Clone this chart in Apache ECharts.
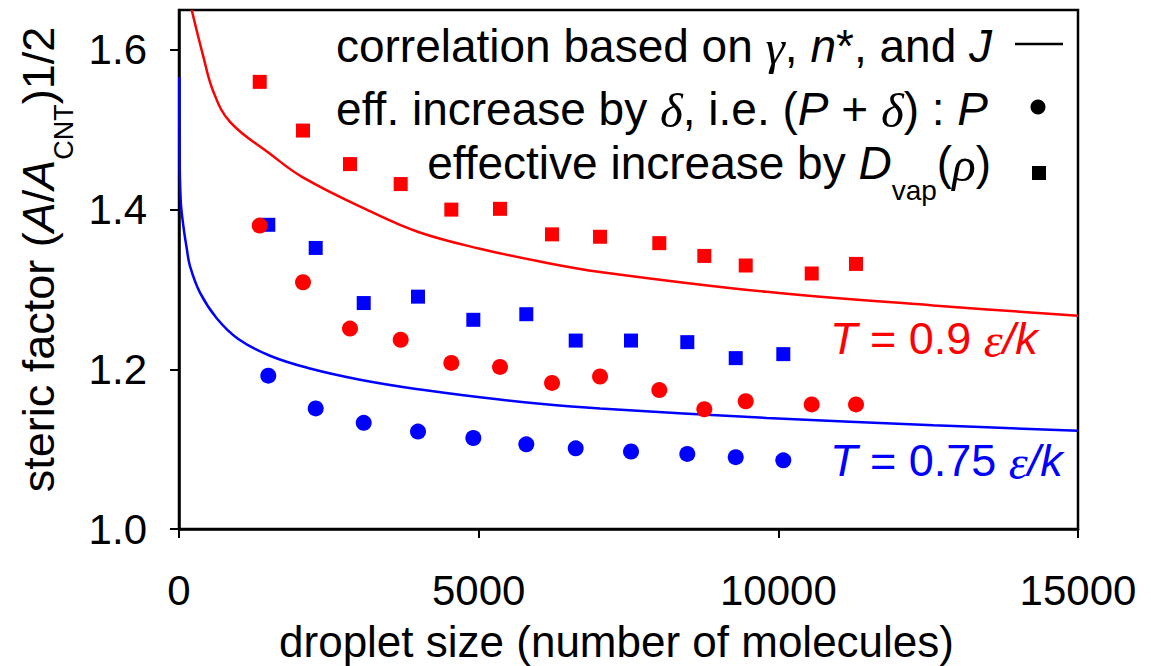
<!DOCTYPE html>
<html>
<head>
<meta charset="utf-8">
<script src="https://cdn.jsdelivr.net/npm/echarts@6/dist/echarts.min.js"></script>
<style>
html,body{margin:0;padding:0;background:#fff;}
#chart{width:1151px;height:666px;}
</style>
</head>
<body>
<div id="chart"></div>
<script>
// ---- data ----
var xTicks = [0, 5000, 10000, 15000];
var yTicks = [1.0, 1.2, 1.4, 1.6];

// T = 0.9 (red)
var redSizes   = [1347, 2069, 2853, 3699, 4544, 5356, 6224, 7025, 8014, 8765, 9456, 10557, 11296];
var redDelta   = [1.380, 1.309, 1.251, 1.237, 1.208, 1.203, 1.183, 1.191, 1.174, 1.150, 1.160, 1.156, 1.156];
var redDvap    = [1.560, 1.499, 1.457, 1.432, 1.400, 1.401, 1.369, 1.366, 1.358, 1.342, 1.330, 1.320, 1.332];
var redCorrX   = [212, 405, 572, 851, 1518, 2074, 3187, 3993, 5022, 6023, 7025, 9806, 12586, 15000];
var redCorrY   = [1.650, 1.592, 1.548, 1.510, 1.470, 1.440, 1.398, 1.372, 1.351, 1.335, 1.322, 1.297, 1.280, 1.267];

// T = 0.75 (blue)
var blueSizes  = [1490, 2281, 3082, 3988, 4911, 5795, 6619, 7542, 8481, 9289, 10083];
var blueDelta  = [1.192, 1.151, 1.133, 1.122, 1.114, 1.106, 1.101, 1.097, 1.094, 1.090, 1.086];
var blueDvap   = [1.381, 1.352, 1.283, 1.291, 1.262, 1.269, 1.236, 1.236, 1.234, 1.214, 1.219];
var blueCorrX  = [5, 8, 28, 72, 128, 184, 350, 629, 989, 1518, 2186, 3020, 3993, 5022, 6023, 7025, 9806, 12586, 15000];
var blueCorrY  = [1.566, 1.484, 1.412, 1.380, 1.352, 1.329, 1.296, 1.264, 1.238, 1.217, 1.201, 1.187, 1.175, 1.165, 1.157, 1.151, 1.139, 1.130, 1.123];

var RED = '#ff0000', BLUE = '#0000ff';
var SANS = "'Liberation Sans', Arial, sans-serif";
var SERIF = "'Liberation Serif', 'Times New Roman', serif";

function zip(xs, ys) { return xs.map(function (x, i) { return [x, ys[i]]; }); }

function richSet(color, fs) {
  var sub = Math.round(fs * 0.6);
  return {
    n:   { fontFamily: SANS, fontSize: fs, lineHeight: fs, color: color, fill: color, verticalAlign: 'top' },
    i:   { fontFamily: SANS, fontSize: fs, lineHeight: fs, color: color, fill: color, fontStyle: 'italic', verticalAlign: 'top' },
    g:   { fontFamily: SERIF, fontSize: fs + 3, lineHeight: fs, color: color, fill: color, fontStyle: 'italic', verticalAlign: 'top' },
    sub: { fontFamily: SANS, fontSize: sub, lineHeight: sub, color: color, fill: color, verticalAlign: 'top', padding: [Math.round(fs * 0.78), 0, 0, 0] }
  };
}

var chart = echarts.init(document.getElementById('chart'), null, { renderer: 'svg' });

var option = {
  animation: false,
  backgroundColor: '#fff',
  grid: { left: 179, right: 73, top: 10, bottom: 137, show: true, borderColor: '#000', borderWidth: 2.5,
          backgroundColor: 'transparent', outerBoundsMode: 'none', containLabel: false },
  xAxis: {
    type: 'value', min: 0, max: 15000, interval: 5000,
    splitLine: { show: false },
    axisLine: { onZero: false, lineStyle: { color: '#000', width: 2.5 } },
    axisTick: { inside: false, length: 9, lineStyle: { color: '#000', width: 2 }, customValues: xTicks },
    axisLabel: { color: '#000', fontFamily: SANS, fontSize: 42, margin: 40, customValues: xTicks,
                 formatter: function (v) { return String(v); } },
    name: 'droplet size (number of molecules)',
    nameLocation: 'middle', nameGap: 90,
    nameTextStyle: { color: '#000', fontFamily: SANS, fontSize: 44, lineHeight: 44, padding: [0, 24, 0, 0] }
  },
  yAxis: {
    type: 'value', min: 1.0, max: 1.65, interval: 0.2,
    splitLine: { show: false },
    axisLine: { onZero: false, lineStyle: { color: '#000', width: 2.5 } },
    axisTick: { inside: false, length: 9, lineStyle: { color: '#000', width: 2 }, customValues: yTicks },
    axisLabel: { color: '#000', fontFamily: SANS, fontSize: 42, margin: 32, customValues: yTicks,
                 formatter: function (v) { return v.toFixed(1); } },
    name: '{n|steric factor (}{i|A}{n|/}{i|A}{sub|CNT}{n|)1/2}',
    nameLocation: 'middle', nameGap: 110, nameRotate: 90,
    nameTextStyle: { color: '#000', fontFamily: SANS, fontSize: 45, padding: [0, 0, 0, 20], rich: richSet('#000', 45) }
  },
  series: [
    { name: 'corr09', type: 'line', data: zip(redCorrX, redCorrY), showSymbol: false, smooth: 0.4,
      lineStyle: { color: RED, width: 2.5 }, itemStyle: { color: RED }, z: 2 },
    { name: 'corr075', type: 'line', data: zip(blueCorrX, blueCorrY), showSymbol: false, smooth: 0.4,
      lineStyle: { color: BLUE, width: 2.5 }, itemStyle: { color: BLUE }, z: 2 },
    { name: 'dvap09', type: 'scatter', data: zip(redSizes, redDvap), symbol: 'rect', symbolSize: 14,
      itemStyle: { color: RED, opacity: 1 }, z: 3 },
    { name: 'dvap075', type: 'scatter', data: zip(blueSizes, blueDvap), symbol: 'rect', symbolSize: 14,
      itemStyle: { color: BLUE, opacity: 1 }, z: 3 },
    { name: 'delta075', type: 'scatter', data: zip(blueSizes, blueDelta), symbol: 'circle', symbolSize: 16,
      itemStyle: { color: BLUE, opacity: 1 }, z: 4 },
    { name: 'delta09', type: 'scatter', data: zip(redSizes, redDelta), symbol: 'circle', symbolSize: 16,
      itemStyle: { color: RED, opacity: 1 }, z: 5 }
  ],
  graphic: [
    // legend text rows (right aligned)
    { type: 'text', z: 10, style: { x: 992, y: 23, align: 'right', verticalAlign: 'top', fill: '#000',
      text: '{n|correlation based on }{g|γ}{n|, }{i|n}{n|*, and }{i|J}', rich: richSet('#000', 46) } },
    { type: 'text', z: 10, style: { x: 988, y: 86, align: 'right', verticalAlign: 'top', fill: '#000',
      text: '{n|eff. increase by }{g|δ}{n|, i.e. (}{i|P}{n| + }{g|δ}{n|) : }{i|P}', rich: richSet('#000', 46) } },
    { type: 'text', z: 10, style: { x: 991, y: 140, align: 'right', verticalAlign: 'top', fill: '#000',
      text: '{n|effective increase by }{i|D}{sub|vap}{n|(}{g|ρ}{n|)}', rich: richSet('#000', 46) } },
    // legend keys
    { type: 'line', z: 10, shape: { x1: 1015, y1: 44, x2: 1063, y2: 44 }, style: { stroke: '#000', lineWidth: 2.5 } },
    { type: 'circle', z: 10, shape: { cx: 1038, cy: 107, r: 7.5 }, style: { fill: '#000' } },
    { type: 'rect', z: 10, shape: { x: 1032, y: 166, width: 14, height: 14 }, style: { fill: '#000' } },
    // temperature labels
    { type: 'text', z: 10, style: { x: 830, y: 316, align: 'left', verticalAlign: 'top', fill: RED,
      text: '{i|T}{n| = 0.9 }{g|ε}{i|/k}', rich: richSet(RED, 45) } },
    { type: 'text', z: 10, style: { x: 830, y: 438, align: 'left', verticalAlign: 'top', fill: BLUE,
      text: '{i|T}{n| = 0.75 }{g|ε}{i|/k}', rich: richSet(BLUE, 45) } }
  ]
};
chart.setOption(option);
</script>
</body>
</html>
